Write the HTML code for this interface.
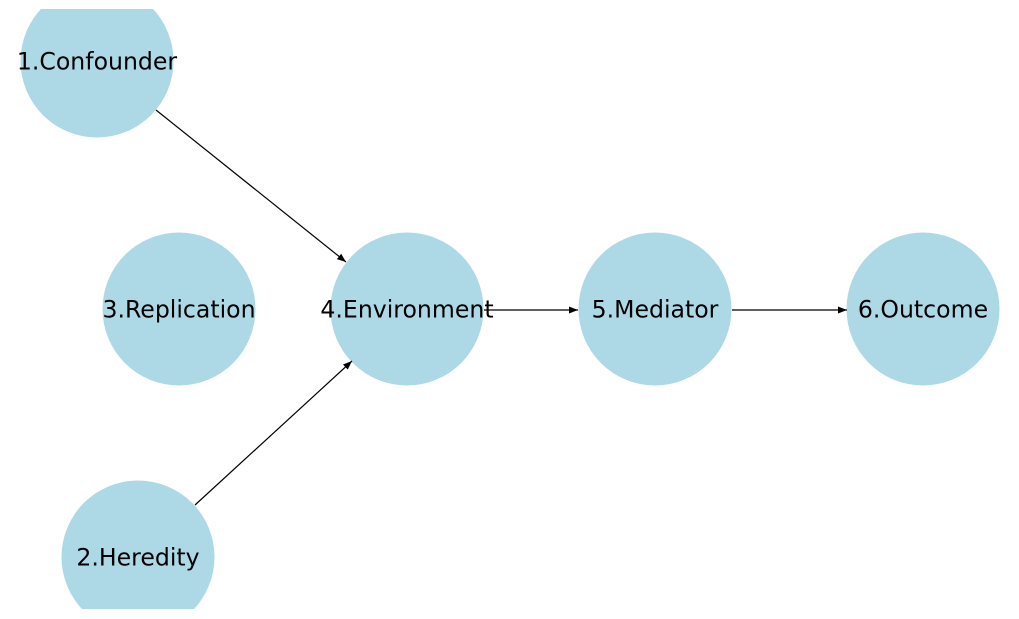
<!DOCTYPE html>
<html><head><style>body{margin:0;background:#fff}svg{display:block}</style></head><body>
<svg width="1019" height="619" xmlns="http://www.w3.org/2000/svg">
<defs>
<clipPath id="c"><rect x="0" y="9" width="1019" height="600"/></clipPath>
<marker id="a" markerWidth="10" markerHeight="8" refX="9" refY="4" orient="auto" markerUnits="userSpaceOnUse"><path d="M0,0.5 L9,4 L0,7.5 z" fill="#000"/></marker>
</defs>
<g clip-path="url(#c)">
<g fill="#add8e6">
<circle cx="97" cy="61" r="76.5"/>
<circle cx="179" cy="309" r="76.5"/>
<circle cx="407" cy="309" r="76.5"/>
<circle cx="655" cy="309" r="76.5"/>
<circle cx="923" cy="309" r="76.5"/>
<circle cx="138" cy="557" r="76.5"/>
</g>
</g>
<g stroke="#000" stroke-width="1.2" marker-end="url(#a)">
<line x1="156" y1="110" x2="346" y2="262"/>
<line x1="195" y1="505" x2="352" y2="361"/>
<line x1="484" y1="310" x2="578" y2="310"/>
<line x1="732" y1="310" x2="847" y2="310"/>
</g>
<g font-family="DejaVu Sans, sans-serif" font-size="23.6" text-anchor="middle" fill="#000">
<text x="97" y="69.5">1.Confounder</text>
<text x="179" y="317.5">3.Replication</text>
<text x="407" y="317.5">4.Environment</text>
<text x="655" y="317.5">5.Mediator</text>
<text x="923" y="317.5">6.Outcome</text>
<text x="138" y="565.5">2.Heredity</text>
</g>
</svg>
</body></html>
